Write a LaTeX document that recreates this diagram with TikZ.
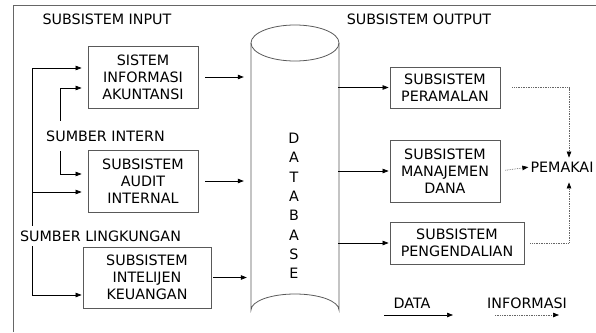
\documentclass[tikz,border=0pt]{standalone}
\usepackage{fontspec}
\setmainfont{DejaVu Sans}
\usetikzlibrary{arrows.meta}

\begin{document}
\begin{tikzpicture}
[x=1pt,y=-1pt,
  boxDecorate/.style={shape=rectangle,draw=black!65,line width=0.8pt,align=center,inner sep=0pt},%
  labelDecorate/.style={fill=white,inner sep=1pt},%
  dataLine/.style={-{Triangle[length=6pt,width=4.5pt]},line width=0.7pt},%
  infoLine/.style={-{Triangle[length=6pt,width=4.5pt,color=black]},line width=0.7pt,densely dotted,draw=black!60},%
  font=\fontsize{14.3}{17}\selectfont]
\useasboundingbox (0,0) rectangle (596,332);
%% frame
\draw[black!60,line width=0.8pt] (13,332) -- (13,5) -- (596,5);
%% headings and sources
\node (headIn) at (107,19) {SUBSISTEM INPUT};
\node (headOut) at (419,19) {SUBSISTEM OUTPUT};
\node (srcIntern) at (105.5,136) [labelDecorate,minimum height=30] {SUMBER INTERN};
\node (srcLingk) at (100.5,236) [labelDecorate,minimum height=20] {SUMBER LINGKUNGAN};
%% subsystem boxes
\foreach \nodename/\x/\y/\w/\h/\txt in {
  sia/143/77/110/62/{SISTEM\\INFORMASI\\AKUNTANSI},
  audit/143/181/110/62/{SUBSISTEM\\AUDIT\\INTERNAL},
  intel/147/277.5/128/61/{SUBSISTEM\\INTELIJEN\\KEUANGAN},
  peram/445/87.5/110/41/{SUBSISTEM\\PERAMALAN},
  manaj/445/171/110/62/{SUBSISTEM\\MANAJEMEN\\DANA},
  pengend/457/243/134/42/{SUBSISTEM\\PENGENDALIAN}}
{
  \node (\nodename) at (\x,\y) [boxDecorate,minimum width=\w,minimum height=\h] {\txt};
}
%% database
\node (db) at (294,206) [minimum width=88,inner sep=0pt,align=center,
  font=\fontsize{14.3}{19.3}\selectfont] {D\\A\\T\\A\\B\\A\\S\\E};
\draw[black!65,line width=0.8pt] (295,43) ellipse [x radius=44,y radius=18];
\draw[black!65,line width=0.8pt] (251,43) -- (251,310)
  arc [start angle=180,end angle=360,x radius=44,y radius=16] -- (339,43);
\node (pemakai) at (562,167) [inner sep=1pt] {PEMAKAI};
%% feed lines
\coordinate (outerFeed) at (32,0);
\coordinate (innerFeed) at (60,0);
\draw[dataLine,shorten >=6pt] (srcLingk.north -| outerFeed) |- ([yshift=9pt]sia.west);
\draw[dataLine,shorten >=6pt] ([yshift=-11pt]audit.west -| outerFeed) -- ([yshift=-11pt]audit.west);
\draw[dataLine,shorten >=1pt] (srcLingk.south -| outerFeed) |- ([yshift=-17.5pt]intel.west);
\draw[dataLine,shorten >=6pt] (srcIntern.north -| innerFeed) |- ([yshift=-11pt]sia.west);
\draw[dataLine,shorten >=6pt] (srcIntern.south -| innerFeed) |- ([yshift=7pt]audit.west);
%% data into and out of the database
\draw[dataLine,shorten <=7pt,shorten >=6pt] (sia.east) -- (sia.east -| db.west);
\draw[dataLine,shorten <=7pt,shorten >=6pt] (audit.east) -- (audit.east -| db.west);
\draw[dataLine,shorten <=2pt,shorten >=3pt] (intel.east) -- (intel.east -| db.west);
\path
\foreach \endnode in {peram, manaj, pengend}
{
  (\endnode.west -| db.east) edge[dataLine,shorten >=1pt] (\endnode.west)
};
%% information to the user
\draw[infoLine,shorten <=12pt,shorten >=3pt] (peram.east) -| ([xshift=7pt]pemakai.north);
\draw[infoLine,shorten <=5pt,shorten >=1pt] (manaj.east) -- (pemakai.west);
\draw[infoLine,shorten <=6pt,shorten >=9pt] (pengend.east) -| ([xshift=7pt]pemakai.south);
%% legend
\node (lgData) at (412,303) {DATA};
\node (lgInfo) at (527,303) {INFORMASI};
\coordinate (lgDataA) at (384,315);
\coordinate (lgDataB) at (453,315);
\coordinate (lgInfoA) at (495,315);
\coordinate (lgInfoB) at (559,315);
\draw[dataLine] (lgDataA) -- (lgDataB);
\draw[infoLine] (lgInfoA) -- (lgInfoB);
\end{tikzpicture}
\end{document}
